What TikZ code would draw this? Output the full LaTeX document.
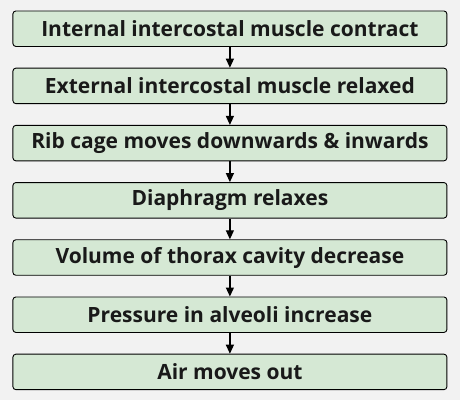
\documentclass[tikz,border=0pt]{standalone}
\usepackage{fontspec}
\setmainfont{Open Sans}
\usetikzlibrary{arrows.meta}
\definecolor{bg}{HTML}{F2F2F2}
\definecolor{boxfill}{HTML}{D5E8D4}
\tikzset{
  stepbox/.style={draw=black, line width=0.9pt, fill=boxfill, rounded corners=3pt,
    minimum width=434pt, minimum height=35.5pt, inner sep=0pt,
    font=\fontsize{21}{24}\selectfont\bfseries, text=black!90},
  flow/.style={draw=black, line width=1.2pt, -{Triangle[length=9pt,width=8pt]}}
}
\begin{document}
\begin{tikzpicture}[x=1pt,y=1pt]
\fill[bg] (0,0) rectangle (460,-400);
\useasboundingbox (0,0) rectangle (460,-400);
\node[stepbox] (s1) at (229.9,-28.7) {Internal intercostal muscle contract};
\node[stepbox] (s2) at (229.9,-85.9) {External intercostal muscle relaxed};
\node[stepbox] (s3) at (229.9,-143.1) {Rib cage moves downwards \& inwards};
\node[stepbox] (s4) at (229.9,-200.3) {Diaphragm relaxes};
\node[stepbox] (s5) at (229.9,-257.5) {Volume of thorax cavity decrease};
\node[stepbox] (s6) at (229.9,-314.7) {Pressure in alveoli increase};
\node[stepbox] (s7) at (229.9,-371.9) {Air moves out};
\draw[flow] (s1) -- (s2);
\draw[flow] (s2) -- (s3);
\draw[flow] (s3) -- (s4);
\draw[flow] (s4) -- (s5);
\draw[flow] (s5) -- (s6);
\draw[flow] (s6) -- (s7);
\end{tikzpicture}
\end{document}
